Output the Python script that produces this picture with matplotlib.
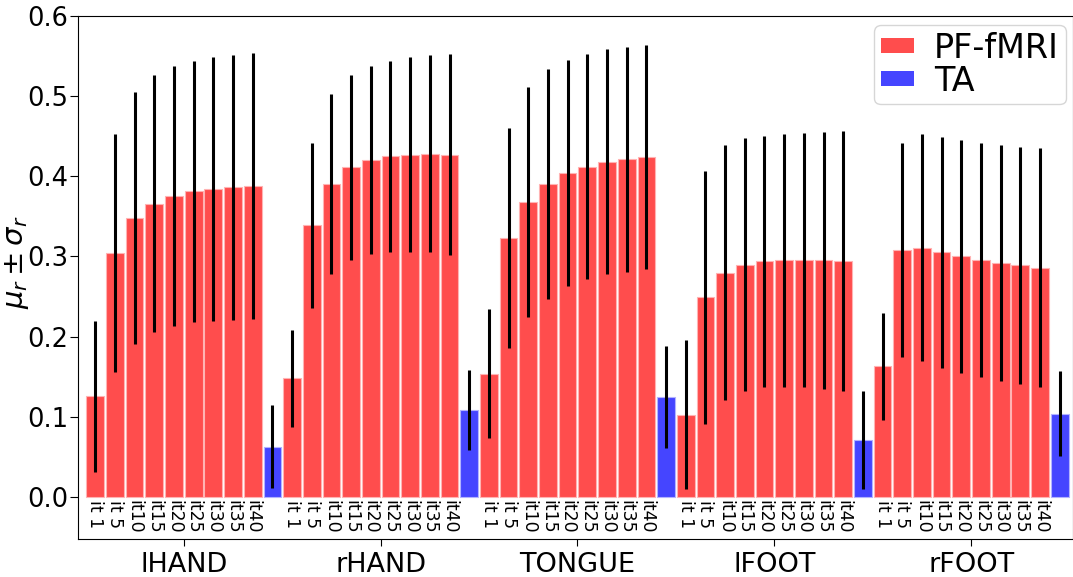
import matplotlib
matplotlib.use("Agg")
import matplotlib.pyplot as plt
from matplotlib.patches import Patch
import numpy as np

groups = ["lHAND", "rHAND", "TONGUE", "lFOOT", "rFOOT"]
iter_labels = ["it 1", "it 5", "it10", "it15", "it20", "it25", "it30", "it35", "it40"]

pf_mean = {
    "lHAND":  [0.126, 0.304, 0.348, 0.366, 0.375, 0.381, 0.384, 0.386, 0.388],
    "rHAND":  [0.148, 0.339, 0.390, 0.411, 0.420, 0.425, 0.427, 0.428, 0.427],
    "TONGUE": [0.154, 0.323, 0.368, 0.390, 0.404, 0.412, 0.418, 0.421, 0.424],
    "lFOOT":  [0.103, 0.249, 0.280, 0.290, 0.294, 0.295, 0.296, 0.295, 0.294],
    "rFOOT":  [0.163, 0.308, 0.311, 0.305, 0.300, 0.296, 0.292, 0.289, 0.286],
}
pf_std = {
    "lHAND":  [0.094, 0.148, 0.157, 0.160, 0.162, 0.163, 0.164, 0.165, 0.166],
    "rHAND":  [0.061, 0.103, 0.112, 0.115, 0.117, 0.119, 0.121, 0.123, 0.125],
    "TONGUE": [0.080, 0.137, 0.143, 0.143, 0.141, 0.140, 0.140, 0.140, 0.139],
    "lFOOT":  [0.093, 0.158, 0.159, 0.157, 0.156, 0.158, 0.158, 0.160, 0.162],
    "rFOOT":  [0.067, 0.133, 0.141, 0.144, 0.145, 0.146, 0.147, 0.148, 0.149],
}
ta_mean = [0.063, 0.109, 0.125, 0.071, 0.104]
ta_std = [0.052, 0.050, 0.063, 0.061, 0.053]

red = "#FF4D4D"
blue = "#4545FF"

W, H = 1073, 577
fig = plt.figure(figsize=(W / 100, H / 100), dpi=100)
ax = fig.add_axes([78.3 / W, (H - 539) / H, (1072.5 - 78.3) / W, (539 - 15.7) / H])

nper = len(iter_labels) + 1
for g, name in enumerate(groups):
    base = g * nper
    xs = np.arange(len(iter_labels)) + base
    ax.bar(xs, pf_mean[name], width=0.9, color=red, edgecolor="#FFB3B3", linewidth=0.8,
           yerr=pf_std[name], error_kw=dict(elinewidth=2.2, ecolor="black", capsize=0))
    xt = base + len(iter_labels)
    ax.bar([xt], [ta_mean[g]], width=0.9, color=blue, edgecolor="#B3B3FF", linewidth=0.8,
           yerr=[ta_std[g]], error_kw=dict(elinewidth=2.2, ecolor="black", capsize=0))
    for x, lab in zip(xs, iter_labels):
        ax.text(x, -0.003, lab, rotation=270, ha="center", va="top", fontsize=12.5)

ax.set_xlim(-0.86, 49.65)
ax.set_ylim(-0.052, 0.6)
ax.set_xticks([g * nper + (nper - 1) / 2 for g in range(len(groups))])
ax.set_xticklabels(groups, fontsize=19.5)
ax.set_yticks(np.arange(0, 0.61, 0.1))
ax.set_yticklabels([f"{v:.1f}" for v in np.arange(0, 0.61, 0.1)], fontsize=18.5)
ax.tick_params(axis="y", length=6, pad=1)
ax.tick_params(axis="x", length=5, pad=4)
ax.set_ylabel(r"$\mu_r \pm \sigma_r$", fontsize=21)
ax.yaxis.set_label_coords(-0.048, 0.53)

handles = [Patch(facecolor=red, edgecolor="none"), Patch(facecolor=blue, edgecolor="none")]
ax.legend(handles, ["PF-fMRI", "TA"], loc="upper right", bbox_to_anchor=(0.993, 0.982),
          borderaxespad=0, fontsize=24, handlelength=1.0, handleheight=0.3,
          handletextpad=0.6, borderpad=0.2, labelspacing=0.0)

fig.savefig("out.png", dpi=100)
